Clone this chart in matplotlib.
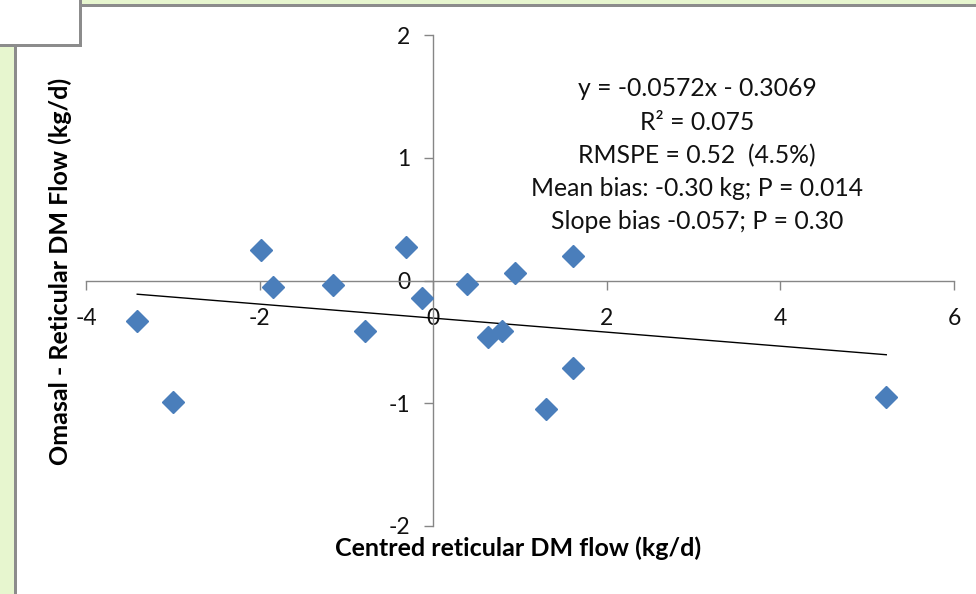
import matplotlib
matplotlib.use("Agg")
import matplotlib.pyplot as plt
from matplotlib.patches import Rectangle
import numpy as np

# ---- data ----
x_centred = [-3.41, -3.00, -1.98, -1.84, -1.15, -0.78, -0.31, -0.13,
             0.39, 0.63, 0.79, 0.94, 1.30, 1.61, 1.61, 5.22]
y_diff = [-0.33, -0.99, 0.25, -0.05, -0.04, -0.41, 0.27, -0.14,
          -0.03, -0.46, -0.41, 0.06, -1.05, 0.20, -0.71, -0.95]
slope = -0.0572
intercept = -0.3069
x_ticks = [-4, -2, 0, 2, 4, 6]
y_ticks = [-2, -1, 0, 1, 2]
stats_lines = ["y = -0.0572x - 0.3069",
               "R\u00b2 = 0.075",
               "RMSPE = 0.52  (4.5%)",
               "Mean bias: -0.30 kg; P = 0.014",
               "Slope bias -0.057; P = 0.30"]
x_label = "Centred reticular DM flow (kg/d)"
y_label = "Omasal - Reticular DM Flow (kg/d)"

W, H = 976, 594
plt.rcParams['font.family'] = ['Lato', 'DejaVu Sans']
fig = plt.figure(figsize=(W / 100, H / 100), dpi=100)

def fx(px):
    return px / W

def fy(py):
    return 1 - py / H

# frame decorations (screenshot surroundings)
green = '#E7F6CF'
gray = '#8C8C8C'
fig.patches.append(Rectangle((fx(0), fy(594)), fx(14), 548 / H, transform=fig.transFigure,
                             facecolor=green, edgecolor='none', zorder=0))
fig.patches.append(Rectangle((fx(14), fy(594)), fx(2.5), 548 / H, transform=fig.transFigure,
                             facecolor=gray, edgecolor='none', zorder=0))
fig.patches.append(Rectangle((fx(81), fy(4)), 1 - fx(81), 4 / H, transform=fig.transFigure,
                             facecolor=green, edgecolor='none', zorder=0))
fig.patches.append(Rectangle((fx(81), fy(6.5)), 1 - fx(81), 2.5 / H, transform=fig.transFigure,
                             facecolor=gray, edgecolor='none', zorder=0))
fig.patches.append(Rectangle((fx(79), fy(47)), 2.5 / W, 47 / H, transform=fig.transFigure,
                             facecolor=gray, edgecolor='none', zorder=0))
fig.patches.append(Rectangle((fx(0), fy(47)), fx(81.5), 2.5 / H, transform=fig.transFigure,
                             facecolor=gray, edgecolor='none', zorder=0))

# axes area
left_px, right_px, top_px, bot_px = 86, 954, 35.3, 525.7
ax = fig.add_axes([fx(left_px), fy(bot_px), fx(right_px - left_px), (bot_px - top_px) / H])
ax.set_facecolor('none')
ax.set_xlim(-4, 6)
ax.set_ylim(-2, 2)

for s in ['top', 'right']:
    ax.spines[s].set_visible(False)
ax.spines['left'].set_position(('data', 0))
ax.spines['bottom'].set_position(('data', 0))
for s in ['left', 'bottom']:
    ax.spines[s].set_color('#868686')
    ax.spines[s].set_linewidth(1.0)

ax.set_xticks(x_ticks)
ax.set_yticks(y_ticks)
ax.set_xticklabels([str(t) for t in x_ticks])
ax.set_yticklabels([str(t) for t in y_ticks])
ax.tick_params(axis='x', direction='out', length=6.5, width=1.0, color='#868686',
               labelsize=16.5, pad=13, labelcolor='#111111')
ax.tick_params(axis='y', direction='out', length=6.5, width=1.0, color='#868686',
               labelsize=16.5, pad=10, labelcolor='#111111')

# data points
ax.plot(x_centred, y_diff, linestyle='none', marker='D', markersize=11.5,
        color='#4A7EBB', markeredgecolor='#4A7EBB', zorder=3, clip_on=False)

# regression line over the data range
xl = np.array([min(x_centred), max(x_centred)])
ax.plot(xl, slope * xl + intercept, color='black', linewidth=1.0, zorder=2)

# statistics text
line_y_px = [88, 122.5, 156, 188.5, 221.5]
for txt, ypx in zip(stats_lines, line_y_px):
    fig.text(fx(697), fy(ypx), txt, ha='center', va='center', fontsize=17.8, color='#111111')

# axis titles
fig.text(fx(518), fy(548), x_label, ha='center', va='center', fontsize=18,
         fontweight='bold', color='#000000')
fig.text(fx(60), fy(271), y_label, ha='center', va='center', fontsize=18,
         fontweight='bold', rotation=90, color='#000000')

fig.savefig('out.png', dpi=100, facecolor='white')
